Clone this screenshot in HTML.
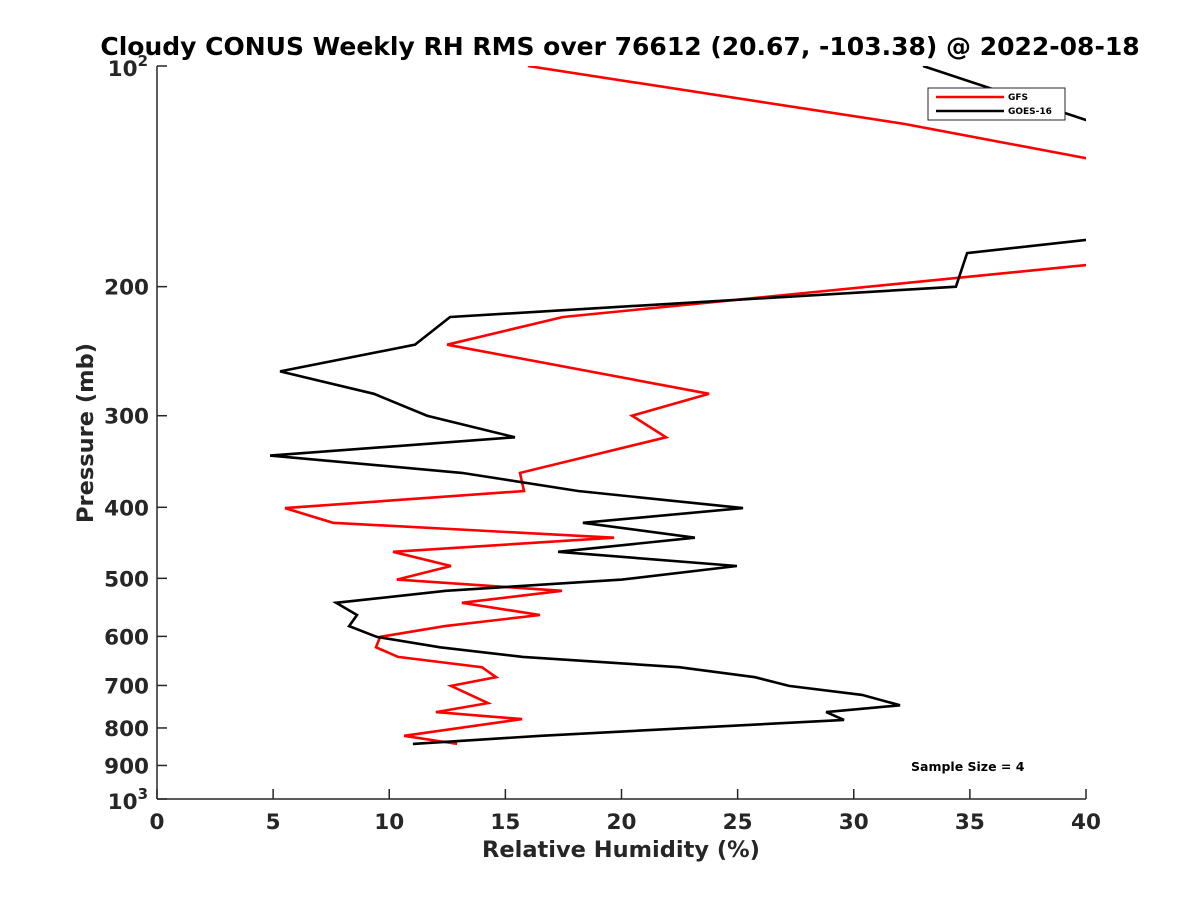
<!DOCTYPE html>
<html><head><meta charset="utf-8"><style>
html,body{margin:0;padding:0;background:#fff;}
svg{display:block;font-family:"DejaVu Sans","Liberation Sans",sans-serif;}
</style></head><body>
<svg id="chart" width="1200" height="900" viewBox="0 0 1200 900">
<text x="620" y="55" text-anchor="middle" font-size="25" font-weight="bold" fill="#000">Cloudy CONUS Weekly RH RMS over 76612 (20.67, -103.38) @ 2022-08-18</text>
<defs><clipPath id="plotclip"><rect x="157" y="66" width="929" height="733"/></clipPath></defs>
<g id="series" clip-path="url(#plotclip)"></g>
<g id="axes"></g>
<text x="621" y="857" text-anchor="middle" font-size="22.5" font-weight="bold" fill="#262626">Relative Humidity (%)</text>
<text transform="translate(93,433) rotate(-90)" text-anchor="middle" font-size="22.5" font-weight="bold" fill="#262626">Pressure (mb)</text>
<g>
<rect x="928" y="88" width="137" height="32" fill="#fff" stroke="#262626" stroke-width="1"/>
<line x1="936" y1="97" x2="1004" y2="97" stroke="#f00" stroke-width="2.5"/>
<text x="1008" y="100" font-size="9" font-weight="bold">GFS</text>
<line x1="936" y1="111" x2="1004" y2="111" stroke="#000" stroke-width="2.5"/>
<text x="1008" y="114" font-size="9" font-weight="bold">GOES-16</text>
</g>
<text x="911" y="771" font-size="12.5" font-weight="bold" fill="#000">Sample Size = 4</text>
</svg>
<script>
const xTicks = [0,5,10,15,20,25,30,35,40];
const yTicks = [100,200,300,400,500,600,700,800,900,1000];
const yTickLabels = ["10^2","200","300","400","500","600","700","800","900","10^3"];
const gfsPressure = [100,120,140,180,220,240,280,300,321,359,380,401,420,440,460,481,502,520,540,561,581,601,621,640,661,682,701,740,761,778,820,841];
const gfsRH = [15.97,32.2,43.4,45.2,17.48,12.49,23.77,20.45,21.92,15.63,15.80,5.51,7.58,19.68,10.16,12.66,10.33,17.44,13.13,16.49,12.40,9.60,9.43,10.38,13.99,14.60,12.66,14.25,12.01,15.72,10.64,12.92];
const goesPressure = [100,118.5,130,165,172.7,180,200,220,240,261,280,300,321,340,359,380,401,420,440,460,481,502,520,540,561,581,601,621,640,661,682,701,721,745,761,780,820,841];
const goesRH = [32.98,40,43.8,45.9,40,34.88,34.40,12.62,11.11,5.30,9.34,11.63,15.41,4.87,13.13,18.13,25.23,18.34,23.16,17.27,24.97,20.02,12.44,7.71,8.61,8.27,9.47,12.19,15.76,22.48,25.75,27.21,30.36,31.99,28.81,29.58,16.53,11.02];

const NS = "http://www.w3.org/2000/svg";
const X0 = 157, X1 = 1086, Y0 = 66, Y1 = 799;
function xScale(v){ return X0 + (v - 0) / 40 * (X1 - X0); }
function yScale(p){ return Y0 + (Math.log10(p) - 2) * (Y1 - Y0); }
function mk(tag, attrs){ const e = document.createElementNS(NS, tag); for (const k in attrs) e.setAttribute(k, attrs[k]); return e; }

const series = document.getElementById('series');
function drawLine(rh, pr, color, name){
  const pts = rh.map((v,i)=> xScale(v).toFixed(1)+','+yScale(pr[i]).toFixed(1)).join(' ');
  const pl = mk('polyline', {points: pts, fill: 'none', stroke: color, 'stroke-width': 2.6, 'stroke-linejoin': 'miter'});
  
  
  series.appendChild(pl);
}
drawLine(gfsRH, gfsPressure, '#f00', 'gfs-line');
drawLine(goesRH, goesPressure, '#000', 'goes16-line');

const axes = document.getElementById('axes');
const xAxis = mk('line', {x1: X0, y1: Y1, x2: X1, y2: Y1, stroke: '#262626', 'stroke-width': 1.5});


axes.appendChild(xAxis);
const yAxis = mk('line', {x1: X0, y1: Y0, x2: X0, y2: Y1, stroke: '#262626', 'stroke-width': 1.5});


axes.appendChild(yAxis);

xTicks.forEach(t => {
  const x = xScale(t);
  const tk = mk('line', {x1: x, y1: Y1, x2: x, y2: Y1 - 10, stroke: '#262626', 'stroke-width': 1.5});
  
  
  axes.appendChild(tk);
  const lb = mk('text', {x: x, y: Y1 + 30, 'text-anchor': 'middle', 'font-size': 21.5, 'font-weight': 'bold', fill: '#262626'});
  lb.textContent = String(t);
  
  
  axes.appendChild(lb);
});

yTicks.forEach((t, i) => {
  const y = yScale(t);
  const tk = mk('line', {x1: X0, y1: y, x2: X0 + 10, y2: y, stroke: '#262626', 'stroke-width': 1.5});
  
  
  axes.appendChild(tk);
  const lb = mk('text', {x: X0 - 8, y: y + 8, 'text-anchor': 'end', 'font-size': 21.5, 'font-weight': 'bold', fill: '#262626'});
  const s = yTickLabels[i];
  if (s.indexOf('^') >= 0) {
    const parts = s.split('^');
    const b = mk('tspan', {}); b.textContent = parts[0];
    const e = mk('tspan', {dy: -10, 'font-size': 15}); e.textContent = parts[1];
    lb.appendChild(b); lb.appendChild(e);
    lb.setAttribute('x', X0 - 9);
    lb.setAttribute('y', y + 10);
  } else {
    lb.textContent = s;
  }
  
  
  axes.appendChild(lb);
});
</script>
</body></html>
